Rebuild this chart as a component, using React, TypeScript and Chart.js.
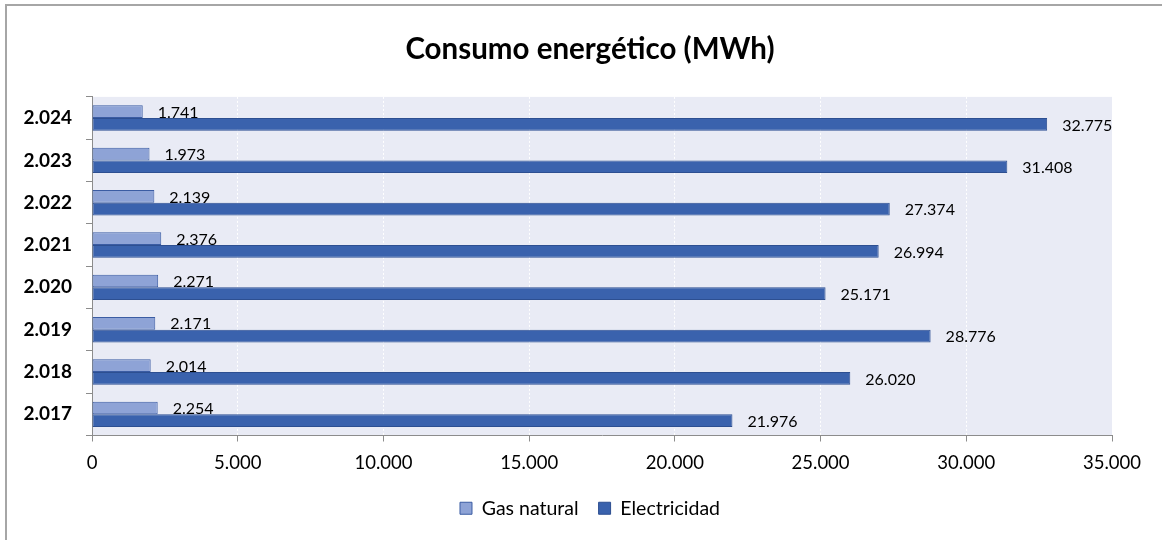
import React, { useEffect, useRef } from "react";
import { Chart, registerables } from "chart.js";

Chart.register(...registerables);

const categories = ["2.017", "2.018", "2.019", "2.020", "2.021", "2.022", "2.023", "2.024"];
const gasNatural = [2254, 2014, 2171, 2271, 2376, 2139, 1973, 1741];
const electricidad = [21976, 26020, 28776, 25171, 26994, 27374, 31408, 32775];
const xTicks = [0, 5000, 10000, 15000, 20000, 25000, 30000, 35000];
const titleText = "Consumo energético (MWh)";
const seriesNames = ["Gas natural", "Electricidad"];

const FONT = "Lato, 'Open Sans', sans-serif";

const fmt = (v: number) => {
  const s = Math.round(v).toString();
  return s.replace(/\B(?=(\d{3})+(?!\d))/g, ".");
};

const decorPlugin = {
  id: "decor",
  beforeDraw(chart: any) {
    const { ctx, chartArea } = chart;
    ctx.save();
    ctx.fillStyle = "#FFFFFF";
    ctx.fillRect(0, 0, chart.width, chart.height);
    ctx.fillStyle = "#E9EBF5";
    ctx.fillRect(chartArea.left, chartArea.top, chartArea.right - chartArea.left, chartArea.bottom - chartArea.top);
    ctx.restore();
  },
  afterDraw(chart: any) {
    const { ctx } = chart;
    ctx.save();
    ctx.strokeStyle = "#A6A6A6";
    ctx.lineWidth = 2;
    ctx.beginPath();
    ctx.moveTo(6, chart.height + 5);
    ctx.lineTo(6, 5);
    ctx.lineTo(chart.width + 5, 5);
    ctx.stroke();
    // data labels
    ctx.fillStyle = "#000000";
    ctx.font = `16px ${FONT}`;
    ctx.textAlign = "left";
    ctx.textBaseline = "middle";
    chart.data.datasets.forEach((ds: any, di: number) => {
      const meta = chart.getDatasetMeta(di);
      meta.data.forEach((bar: any, i: number) => {
        ctx.fillText(fmt(ds.data[i]), bar.x + 15, bar.y + 1);
      });
    });
    ctx.restore();
  },
};

export default function App() {
  const ref = useRef<HTMLCanvasElement | null>(null);
  useEffect(() => {
    if (!ref.current) return;
    const chart = new Chart(ref.current, {
      type: "bar",
      data: {
        labels: categories,
        datasets: [
          {
            label: seriesNames[0],
            data: gasNatural,
            backgroundColor: "#8EA3D6",
            borderColor: "#3B5CA3",
            borderWidth: 1,
            borderSkipped: false,
            categoryPercentage: 0.6,
            barPercentage: 1.0,
          },
          {
            label: seriesNames[1],
            data: electricidad,
            backgroundColor: "#3A62AD",
            borderColor: "#2D4F91",
            borderWidth: 1,
            borderSkipped: false,
            categoryPercentage: 0.6,
            barPercentage: 1.0,
          },
        ],
      },
      options: {
        indexAxis: "y",
        animation: false,
        responsive: false,
        maintainAspectRatio: false,
        layout: { padding: { left: 18, right: 0, top: 0, bottom: 12 } },
        plugins: {
          title: {
            display: true,
            text: titleText,
            color: "#000000",
            font: { family: FONT, size: 29.5, weight: "bold" },
            padding: { top: 32, bottom: 29.5 },
          },
          legend: {
            display: true,
            position: "bottom",
            labels: {
              color: "#000000",
              font: { family: FONT, size: 19.5 },
              boxWidth: 12,
              boxHeight: 12,
              padding: 20,
            },
          },
          tooltip: { enabled: false },
        },
        scales: {
          y: {
            type: "category",
            reverse: true,
            afterFit: (s: any) => {
              s.width = 74;
            },
            border: { display: true, color: "#8C8C8C", width: 1 },
            grid: {
              display: true,
              drawOnChartArea: false,
              drawTicks: true,
              tickLength: 6,
              color: "#8C8C8C",
              offset: true,
            },
            ticks: {
              color: "#000000",
              font: { family: FONT, size: 19, weight: "bold" },
              padding: 14,
            },
          },
          x: {
            type: "linear",
            min: 0,
            max: 35000,
            afterBuildTicks: (s: any) => {
              s.ticks = xTicks.map((v) => ({ value: v }));
            },
            afterFit: (s: any) => {
              s.height = 43;
              s.paddingRight = 50;
            },
            border: { display: true, color: "#8C8C8C", width: 1, dash: [2, 2] },
            grid: {
              display: true,
              drawOnChartArea: true,
              drawTicks: true,
              tickLength: 6,
              color: "#FFFFFF",
              tickColor: "#8C8C8C",
              lineWidth: 1,
            },
            ticks: {
              color: "#000000",
              font: { family: FONT, size: 18.5 },
              padding: 10,
              callback: (v: any) => fmt(Number(v)),
            },
          },
        },
      } as any,
      plugins: [decorPlugin],
    });
    return () => chart.destroy();
  }, []);
  return (
    <div style={{ position: "absolute", left: 0, top: 0, width: 1162, height: 540 }}>
      <canvas ref={ref} width={1162} height={540} style={{ width: 1162, height: 540, display: "block" }} />
    </div>
  );
}
